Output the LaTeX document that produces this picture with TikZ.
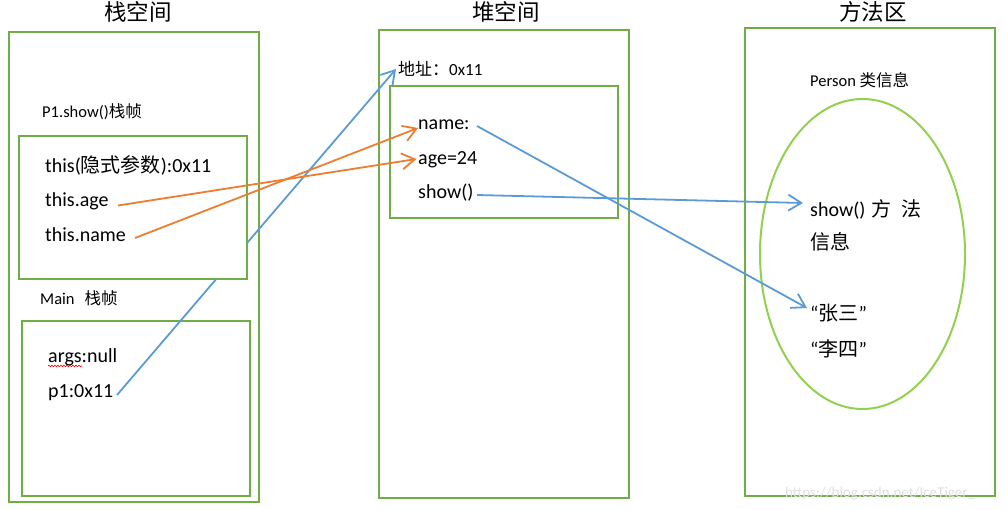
\documentclass[tikz,border=0pt]{standalone}
\usepackage{fontspec}
\setmainfont{Carlito}
\newfontfamily\cjk{Noto Sans CJK SC}
\usetikzlibrary{arrows.meta,shapes.geometric,decorations.pathmorphing}
\definecolor{boxgreen}{HTML}{70AD47}
\definecolor{ellgreen}{HTML}{92D050}
\definecolor{ptrorange}{HTML}{ED7D31}
\definecolor{ptrblue}{HTML}{5B9BD5}
\tikzset{
  frame/.style={draw=boxgreen, line width=2.7pt, inner sep=0pt, outer sep=0pt},
  lbl/.style={anchor=base west, inner sep=0pt, font=\fontsize{20}{22}\selectfont},
  smalllbl/.style={anchor=base west, inner sep=0pt, font=\fontsize{16.5}{18}\selectfont},
  titlelbl/.style={anchor=base, inner sep=0pt, font=\cjk\fontsize{22.5}{24}\selectfont},
  ptr/.style={line width=1.8pt, -{Straight Barb[length=13pt,width=16pt,line width=1.8pt]}},
}
\begin{document}
\begin{tikzpicture}[x=1pt,y=-1pt]
\useasboundingbox (0,0) rectangle (1006,510);
% titles
\node[titlelbl] (t1) at (138,21) {栈空间};
\node[titlelbl] (t2) at (506,21) {堆空间};
\node[titlelbl] (t3) at (873,21) {方法区};
% outer frames
\node[frame, minimum width=250pt, minimum height=470pt] (stack) at (134,267) {};
\node[frame, minimum width=250pt, minimum height=468pt] (heap) at (504,264) {};
\node[frame, minimum width=250pt, minimum height=468pt] (method) at (870,262) {};
\node[frame, minimum width=228pt, minimum height=175pt] (mainf) at (136,408.5) {};
% blue pointer from p1 to heap address (passes behind P1 frame)
\coordinate (p1s) at (117,395);
\coordinate (addrt) at (396,69);
\draw[ptr, draw=ptrblue] (p1s) -- (addrt);
\node[frame, fill=white, minimum width=228pt, minimum height=143pt] (p1f) at (133,207.5) {};
\node[frame, minimum width=228pt, minimum height=132pt] (obj) at (504,152) {};
\node[ellipse, draw=ellgreen, line width=2pt, minimum width=205pt, minimum height=310pt, inner sep=0pt] (person) at (862.5,254) {};
% stack texts
\node[smalllbl] (p1show) at (42,118) {P1.show(){\cjk 栈帧}};
\node[lbl] (thisv) at (45,173) {this({\cjk 隐式参数}):0x11};
\node[lbl] (thisage) at (45,207) {this.age};
\node[lbl] (thisname) at (45,242) {this.name};
\node[smalllbl] (mainl) at (40,305) {Main\hspace{10pt}{\cjk 栈帧}};
\node[lbl] (args) at (48,362) {args:null};
\draw[red, line width=0.6pt, decorate, decoration={snake, amplitude=0.8pt, segment length=3pt}] (args.base west) ++(0,4) coordinate (sq1) -- ++(34,0) coordinate (sq2);
\node[lbl] (p1v) at (48,397) {p1:0x11};
% heap texts
\node[anchor=base west, inner sep=0pt, font=\fontsize{17}{18}\selectfont] (addr) at (398,76) {{\cjk 地址：}0x11};
\node[lbl] (namef) at (418,130) {name:};
\node[lbl] (agef) at (418,165) {age=24};
\node[lbl] (showf) at (418,199) {show()};
% method area texts
\node[anchor=base west, inner sep=0pt, font=\fontsize{16.5}{18}\selectfont] (personl) at (810,87) {Person {\cjk 类信息}};
\node[lbl] (showm) at (810,217) {show()\hspace{6pt}{\cjk 方\hspace{10pt}法}};
\node[lbl] (showm2) at (810,250) {{\cjk 信息}};
\node[lbl] (zs) at (810,320) {“{\cjk 张三}”};
\node[lbl] (ls) at (810,356) {“{\cjk 李四}”};
% watermark
\node[anchor=base west, inner sep=0pt, text=black!12, font=\fontsize{15}{16}\selectfont] (wm) at (785,497) {https://blog.csdn.net/IceTiger\_};
% orange pointers
\coordinate (ages) at (118,205.5);
\coordinate (aget) at (416.5,159);
\coordinate (names) at (135,238);
\coordinate (namet) at (418,128);
\draw[ptr, draw=ptrorange] (ages) -- (aget);
\draw[ptr, draw=ptrorange] (names) -- (namet);
% blue pointers heap -> method area
\coordinate (nms) at (477,126);
\coordinate (nmt) at (807,308);
\coordinate (shs) at (477,195);
\coordinate (sht) at (803,203);
\draw[ptr, draw=ptrblue] (nms) -- (nmt);
\draw[ptr, draw=ptrblue] (shs) -- (sht);
\end{tikzpicture}
\end{document}
